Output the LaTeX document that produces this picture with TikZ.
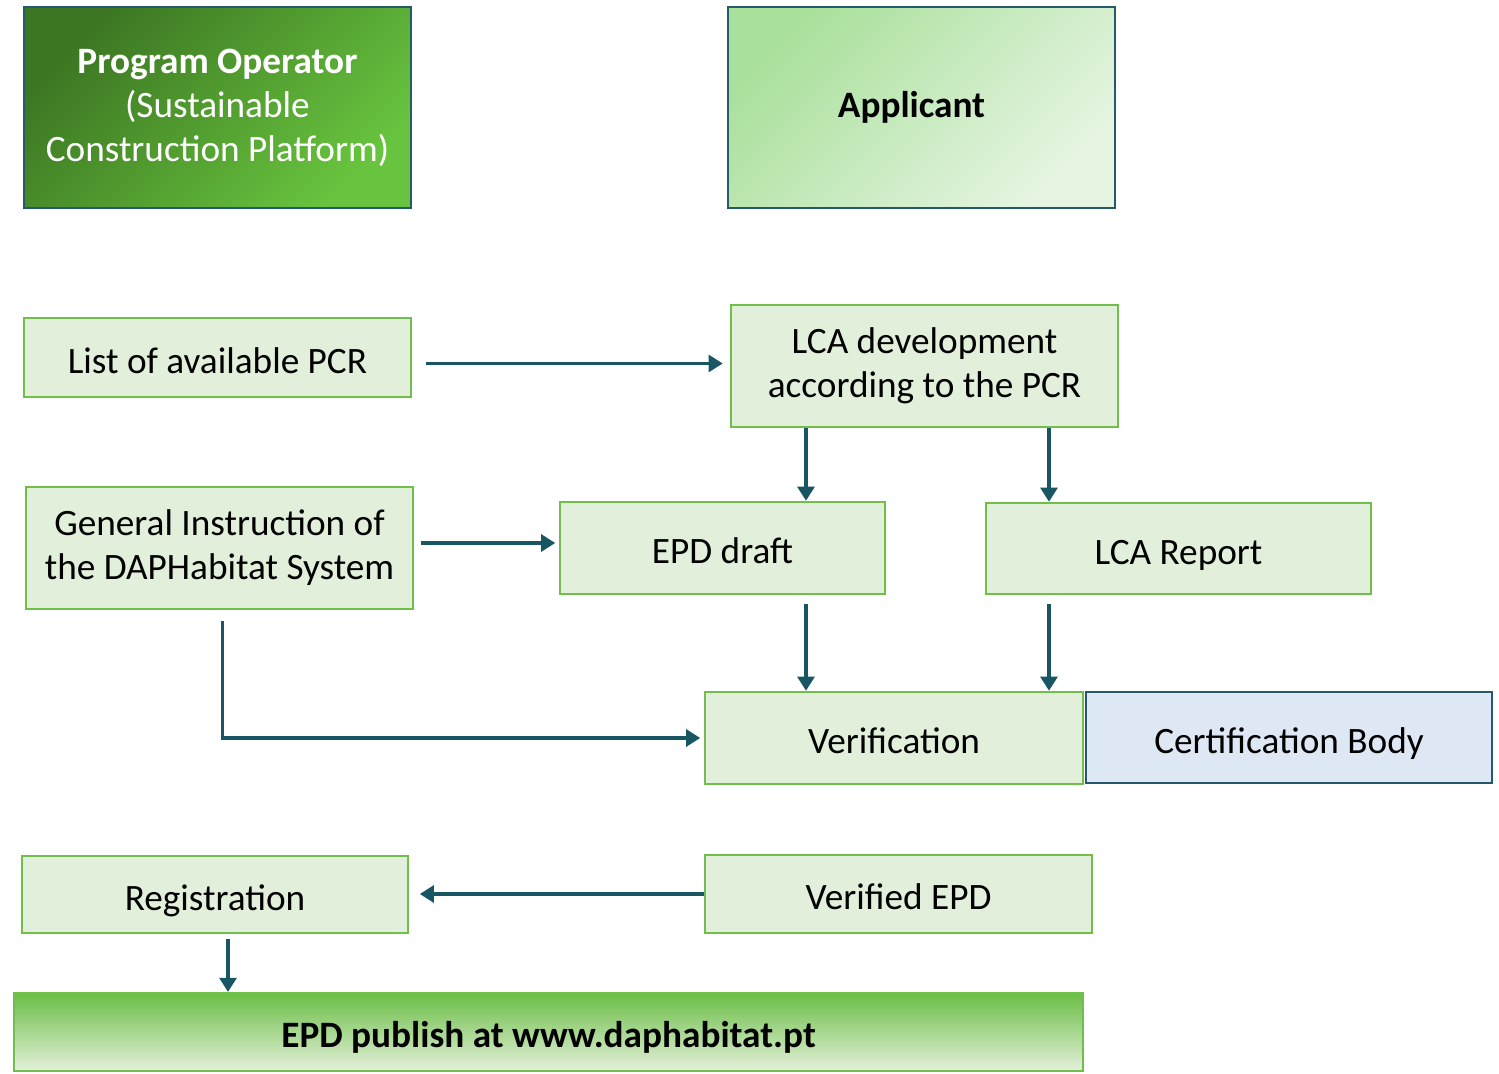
\documentclass[tikz,border=0pt]{standalone}
\usepackage{fontspec}
\setmainfont{Carlito}
\usetikzlibrary{arrows.meta}
\usetikzlibrary{calc}

\definecolor{boxfill}{HTML}{E2EFDA}
\definecolor{boxline}{HTML}{70BF4A}
\definecolor{flowc}{HTML}{195663}
\definecolor{tealline}{HTML}{245A6B}
\definecolor{certfill}{HTML}{DEE8F4}
\definecolor{darkgreen}{HTML}{3C7622}
\definecolor{brightgreen}{HTML}{68C43E}
\definecolor{lightgreenA}{HTML}{A9E09B}
\definecolor{lightgreenB}{HTML}{E6F5E2}
\definecolor{pubgreen}{HTML}{6BBE45}
\definecolor{pubpale}{HTML}{E4F0DB}

\begin{document}
\begin{tikzpicture}[
	x=0.02cm,
	y=-0.02cm,
	font=\fontsize{21.2}{25}\selectfont]

\tikzstyle{size}=[minimum width=#1*0.02cm]
\tikzstyle{step box}=[draw=boxline, fill=boxfill, line width=1.4pt,
	inner sep=0pt, align=center]
\tikzstyle{one line}=[text height=22pt, text depth=4pt]
\tikzstyle{role box}=[draw=tealline, line width=1.4pt, inner sep=0pt,
	align=center]
\tikzstyle{flow}=[draw=flowc, line width=2pt,
	-{Triangle[width=9.5pt,length=8pt]}]

\useasboundingbox (0,0) rectangle (1499,1074);

% roles
\node (operator) at (217.5,107.5) [role box, size=387, minimum height=4.02cm,
	top color=darkgreen, bottom color=brightgreen, shading angle=45,
	text=white]
	{\textbf{Program Operator}\\(Sustainable\\Construction Platform)};
\node (applicant) at (921.5,107.5) [role box, size=387, minimum height=4.02cm,
	top color=lightgreenA, bottom color=lightgreenB, shading angle=45]
	{\textbf{Applicant}\hspace*{0.4cm}};

% process steps
\node (pcr) at (217.5,357.5) [step box, one line, size=387,
	minimum height=1.58cm]
	{List of available PCR};
\node (lca) at (924.5,366) [step box, size=387, minimum height=2.44cm]
	{LCA development\\according to the PCR};
\node (general) at (219.5,548) [step box, size=387, minimum height=2.44cm]
	{General Instruction of\\the DAPHabitat System};
\node (draft) at (722.5,548) [step box, one line, size=325,
	minimum height=1.84cm]
	{EPD draft};
\node (report) at (1178.5,548.5) [step box, one line, size=385,
	minimum height=1.82cm]
	{LCA Report};
\node (verif) at (894,738) [step box, one line, size=378,
	minimum height=1.84cm]
	{Verification};
\node (certbody) at (1289,737.5) [role box, one line, fill=certfill,
	size=406, minimum height=1.82cm]
	{Certification Body};
\node (register) at (215,894.5) [step box, one line, size=386,
	minimum height=1.54cm]
	{Registration};
\node (verified) at (898.5,894) [step box, one line, size=387,
	minimum height=1.56cm]
	{Verified EPD};

% publication bar
\node (publish) at (548.5,1032) [draw=boxline, line width=1.2pt, one line,
	size=1069, minimum height=1.56cm, inner sep=0pt,
	top color=pubgreen, middle color=pubgreen!92!pubpale, bottom color=pubpale]
	{\textbf{EPD publish at www.daphabitat.pt}};

% arrow columns
\coordinate (colA) at (806,0);
\coordinate (colB) at (1049,0);
\coordinate (colC) at (228,0);

% Draw connectors
\draw[flow, shorten >=4pt] (pcr.east) ++(14,6) coordinate (pcrout)
	-- (pcrout -| lca.west);
\draw[flow] (colA |- lca.south) -- (colA |- draft.north);
\draw[flow] (colB |- lca.south) -- (colB |- report.north);
\draw[flow, shorten >=2pt] (general.east) ++(7,-5) coordinate (genout)
	-- (genout -| draft.west);
\draw[flow, shorten <=5pt] (colA |- draft.south) -- (colA |- verif.north);
\draw[flow, shorten <=5pt] (colB |- report.south) -- (colB |- verif.north);
\draw[flow, shorten >=2pt] (general.south) ++(3,11)
	|- (verif.west);
\draw[flow, shorten >=6pt] (verified.west) -- (verified.west -| register.east);
\draw[flow, shorten <=3pt] (colC |- register.south) -- (colC |- publish.north);

\end{tikzpicture}
\end{document}
